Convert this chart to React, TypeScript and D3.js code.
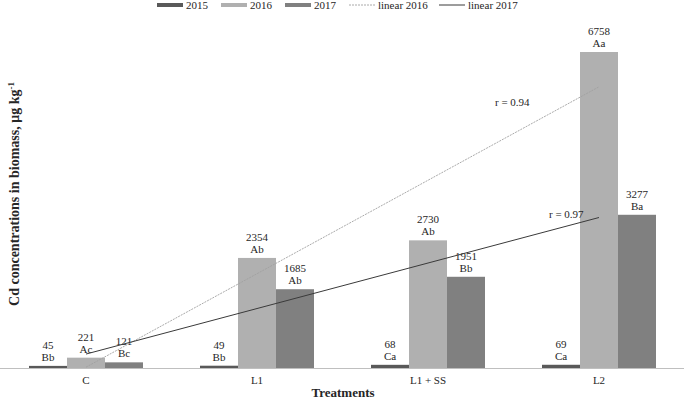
import React, { useEffect, useRef } from 'react';
import * as d3 from 'd3';

const categories = ['C', 'L1', 'L1 + SS', 'L2'];
const seriesNames = ['2015', '2016', '2017'];
const values2015 = [45, 49, 68, 69];
const values2016 = [221, 2354, 2730, 6758];
const values2017 = [121, 1685, 1951, 3277];
const letters2015 = ['Bb', 'Bb', 'Ca', 'Ca'];
const letters2016 = ['Ac', 'Ab', 'Ab', 'Aa'];
const letters2017 = ['Bc', 'Ab', 'Bb', 'Ba'];
const rLabels = ['r = 0.94', 'r = 0.97'];

const colors = ['#595959', '#b0b0b0', '#808080'];
const FONT = '"Liberation Serif", "Times New Roman", serif';

// least squares line through (1..n, values)
const fitLine = (vals: number[]) => {
  const xs = vals.map((_, i) => i + 1);
  const mx = d3.mean(xs) as number;
  const my = d3.mean(vals) as number;
  let num = 0;
  let den = 0;
  xs.forEach((x, i) => {
    num += (x - mx) * (vals[i] - my);
    den += (x - mx) * (x - mx);
  });
  const slope = num / den;
  const intercept = my - slope * mx;
  return (x: number) => intercept + slope * x;
};

const App = () => {
  const ref = useRef<SVGSVGElement>(null);

  useEffect(() => {
    const svg = d3.select(ref.current);
    svg.selectAll('*').remove();

    const width = 685;
    const height = 401;
    svg.attr('width', width).attr('height', height);

    const series = [values2015, values2016, values2017];
    const letters = [letters2015, letters2016, letters2017];

    const x = d3.scaleBand().domain(categories).range([0.5, 684.5]).padding(0);
    const xInner = d3.scaleBand().domain(seriesNames)
      .range([x.bandwidth() / 6, x.bandwidth() * 5 / 6]);
    const y = d3.scaleLinear().domain([0, 7000]).range([368, 40.7]);

    // axis line
    svg.append('line')
      .attr('x1', 0).attr('x2', 684)
      .attr('y1', y(0) + 0.5).attr('y2', y(0) + 0.5)
      .attr('stroke', '#bfbfbf').attr('stroke-width', 1);

    // bars
    series.forEach((vals, si) => {
      const g = svg.append('g');
      g.selectAll('rect')
        .data(vals)
        .enter().append('rect')
        .attr('x', (d, i) => (x(categories[i]) as number) + (xInner(seriesNames[si]) as number))
        .attr('y', d => y(d))
        .attr('width', xInner.bandwidth())
        .attr('height', d => y(0) - y(d))
        .attr('fill', colors[si]);

      g.selectAll('text.val')
        .data(vals)
        .enter().append('text')
        .attr('x', (d, i) => (x(categories[i]) as number) + (xInner(seriesNames[si]) as number) + xInner.bandwidth() / 2)
        .attr('y', d => y(d) - 17)
        .attr('text-anchor', 'middle')
        .attr('font-family', FONT).attr('font-size', 11).attr('fill', '#262626')
        .text(d => String(d));

      g.selectAll('text.let')
        .data(vals)
        .enter().append('text')
        .attr('x', (d, i) => (x(categories[i]) as number) + (xInner(seriesNames[si]) as number) + xInner.bandwidth() / 2)
        .attr('y', d => y(d) - 5)
        .attr('text-anchor', 'middle')
        .attr('font-family', FONT).attr('font-size', 11).attr('fill', '#262626')
        .text((d, i) => letters[si][i]);
    });

    // trend lines
    const cx = (i: number) => (x(categories[i]) as number) + x.bandwidth() / 2;
    const trends = [
      { f: fitLine(values2016), stroke: '#a0a0a0', dash: '2,1', w: 0.9 },
      { f: fitLine(values2017), stroke: '#3a3a3a', dash: null, w: 1 },
    ];
    trends.forEach(t => {
      svg.append('line')
        .attr('x1', cx(0)).attr('y1', y(t.f(1)))
        .attr('x2', cx(3)).attr('y2', y(t.f(4)))
        .attr('stroke', t.stroke).attr('stroke-width', t.w)
        .attr('stroke-dasharray', t.dash);
    });

    svg.append('text')
      .attr('x', cx(3) - 104).attr('y', 105.5)
      .attr('font-family', FONT).attr('font-size', 11).attr('fill', '#262626')
      .text(rLabels[0]);
    svg.append('text')
      .attr('x', cx(3) - 50).attr('y', 217.5)
      .attr('font-family', FONT).attr('font-size', 11).attr('fill', '#262626')
      .text(rLabels[1]);

    // category labels
    svg.append('g').selectAll('text')
      .data(categories)
      .enter().append('text')
      .attr('x', d => (x(d) as number) + x.bandwidth() / 2)
      .attr('y', 384)
      .attr('text-anchor', 'middle')
      .attr('font-family', FONT).attr('font-size', 11).attr('fill', '#262626')
      .text(d => d);

    // axis titles
    svg.append('text')
      .attr('x', 343).attr('y', 397)
      .attr('text-anchor', 'middle')
      .attr('font-family', FONT).attr('font-size', 13).attr('font-weight', 'bold').attr('fill', '#262626')
      .text('Treatments');

    const yt = svg.append('text')
      .attr('transform', 'translate(19,194) rotate(-90)')
      .attr('text-anchor', 'middle')
      .attr('font-family', FONT).attr('font-size', 14).attr('font-weight', 'bold').attr('fill', '#262626');
    yt.append('tspan').text('Cd concentrations in biomass, μg kg');
    yt.append('tspan').attr('dy', -5).attr('font-size', 9).text('-1');

    // legend
    const legend = [
      { label: '2015', type: 'rect', color: colors[0], x: 157 },
      { label: '2016', type: 'rect', color: colors[1], x: 221 },
      { label: '2017', type: 'rect', color: colors[2], x: 285 },
      { label: 'linear 2016', type: 'dash', color: '#a0a0a0', x: 349 },
      { label: 'linear 2017', type: 'line', color: '#3a3a3a', x: 439 },
    ];
    const lg = svg.append('g');
    legend.forEach(it => {
      if (it.type === 'rect') {
        lg.append('rect').attr('x', it.x).attr('y', 3).attr('width', 26).attr('height', 4).attr('fill', it.color);
      } else {
        lg.append('line')
          .attr('x1', it.x).attr('x2', it.x + 26).attr('y1', 5).attr('y2', 5)
          .attr('stroke', it.color).attr('stroke-width', it.type === 'dash' ? 0.9 : 1)
          .attr('stroke-dasharray', it.type === 'dash' ? '2,1' : null);
      }
      lg.append('text')
        .attr('x', it.x + 29).attr('y', 9)
        .attr('font-family', FONT).attr('font-size', 11).attr('fill', '#262626')
        .text(it.label);
    });
  }, []);

  return (
    <div style={{ position: 'absolute', left: 0, top: 0 }}>
      <svg ref={ref} style={{ display: 'block' }}></svg>
    </div>
  );
};

export default App;
